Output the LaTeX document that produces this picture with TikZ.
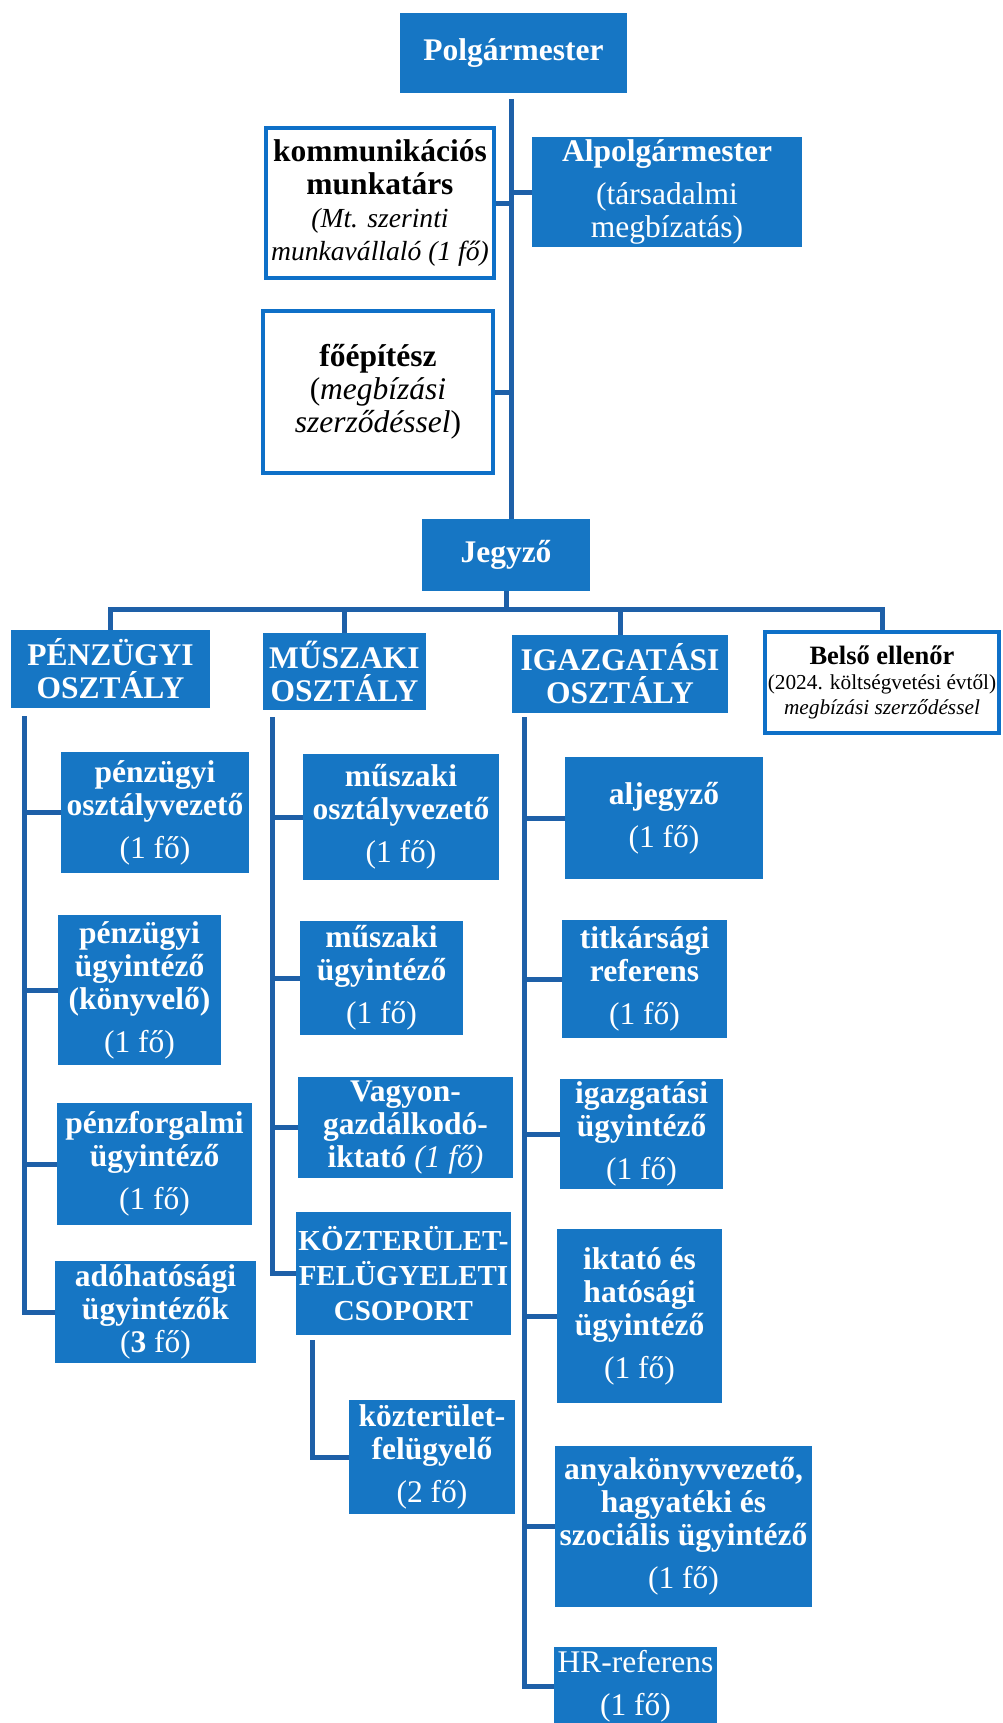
\documentclass[tikz,border=0pt]{standalone}
\usepackage{fontspec}
\setmainfont{Liberation Serif}
\newlength{\du}
\setlength{\du}{0.5pt}
\definecolor{dobozkek}{RGB}{22,118,196}
\definecolor{keretkek}{RGB}{14,112,200}
\definecolor{vonalkek}{RGB}{30,96,168}
\newcommand{\fo}[1]{\\[5pt]{\normalfont(#1~fő)}}
\tikzset{
  kek/.style={rectangle, fill=dobozkek, text=white, align=center, inner sep=0pt,
    font=\bfseries\fontsize{15.75}{16.5}\selectfont},
  feher/.style={rectangle, draw=keretkek, line width=2pt, fill=white, text=black,
    align=center, inner sep=0pt, font=\fontsize{15.75}{16.5}\selectfont},
  vonal/.style={draw=vonalkek, line width=2.5pt},
}

\begin{document}
\begin{tikzpicture}[x=\du,y=-\du]
\useasboundingbox (0,0) rectangle (1002,1723);
\clip (0,0) rectangle (1002,1723);
% vezetés
\node[kek, minimum width=227\du, minimum height=80\du] (polg) at (513.5,53) {Polgármester};
\node[feher, minimum width=228\du, minimum height=150\du] (komm) at (380,203)
  {\textbf{kommunikációs}\\\textbf{munkatárs}\\{\fontsize{13.8}{14.5}\selectfont\itshape(Mt. szerinti}\\{\fontsize{13.8}{14.5}\selectfont\itshape munkavállaló (1~fő)}};
\node[kek, minimum width=270\du, minimum height=110\du] (alpolg) at (667,192)
  {Alpolgármester\\[5pt]{\normalfont(társadalmi}\\{\normalfont megbízatás)}};
\node[feher, minimum width=230\du, minimum height=162\du] (foep) at (378,392)
  {\textbf{főépítész}\\(\textit{megbízási}\\\textit{szerződéssel})};
\node[kek, minimum width=168\du, minimum height=72\du] (jegyzo) at (506,555) {Jegyző};
% osztályok
\node[kek, minimum width=199\du, minimum height=78\du] (penz) at (110.5,669) {PÉNZÜGYI\\OSZTÁLY};
\node[kek, minimum width=163\du, minimum height=77\du] (musz) at (344.5,671.5) {MŰSZAKI\\OSZTÁLY};
\node[kek, minimum width=216\du, minimum height=78\du] (igaz) at (620,674) {IGAZGATÁSI\\OSZTÁLY};
\node[feher, minimum width=234\du, minimum height=101\du, font=\fontsize{10.65}{12.5}\selectfont] (belso) at (882,682.5)
  {{\fontsize{13.25}{14}\selectfont\bfseries Belső ellenőr}\\(2024. költségvetési évtől)\\\textit{megbízási szerződéssel}};
% pénzügyi osztály
\node[kek, minimum width=188\du, minimum height=121\du] (p1) at (155,812.5) {pénzügyi\\osztályvezető\fo{1}};
\node[kek, minimum width=163\du, minimum height=150\du] (p2) at (139.5,990) {pénzügyi\\ügyintéző\\(könyvelő)\fo{1}};
\node[kek, minimum width=195\du, minimum height=122\du] (p3) at (154.5,1164) {pénzforgalmi\\ügyintéző\fo{1}};
\node[kek, minimum width=201\du, minimum height=102\du] (p4) at (155.5,1312) {adóhatósági\\ügyintézők\\{\normalfont(\textbf{3}~fő)}};
% műszaki osztály
\node[kek, minimum width=196\du, minimum height=126\du] (m1) at (401,817) {műszaki\\osztályvezető\fo{1}};
\node[kek, minimum width=163\du, minimum height=114\du] (m2) at (381.5,978) {műszaki\\ügyintéző\fo{1}};
\node[kek, minimum width=215\du, minimum height=101\du] (m3) at (405.5,1127.5) {Vagyon-\\gazdálkodó-\\iktató {\normalfont\itshape(1~fő)}};
\node[kek, minimum width=215\du, minimum height=123\du, font=\bfseries\fontsize{14.5}{17.5}\selectfont] (m4) at (403.5,1273.5) {KÖZTERÜLET-\\FELÜGYELETI\\CSOPORT};
\node[kek, minimum width=166\du, minimum height=114\du] (m5) at (432,1457) {közterület-\\felügyelő\fo{2}};
% igazgatási osztály
\node[kek, minimum width=198\du, minimum height=122\du] (i1) at (664,818) {aljegyző\fo{1}};
\node[kek, minimum width=165\du, minimum height=118\du] (i2) at (644.5,979) {titkársági\\referens\fo{1}};
\node[kek, minimum width=163\du, minimum height=110\du] (i3) at (641.5,1134) {igazgatási\\ügyintéző\fo{1}};
\node[kek, minimum width=165\du, minimum height=174\du] (i4) at (639.5,1316) {iktató és\\hatósági\\ügyintéző\fo{1}};
\node[kek, minimum width=257\du, minimum height=161\du] (i5) at (683.5,1526.5) {anyakönyvvezető,\\hagyatéki és\\szociális ügyintéző\fo{1}};
\node[kek, minimum width=163\du, minimum height=78\du, font=\fontsize{15.75}{16.5}\selectfont] (i6) at (635.5,1686) {HR-referens\fo{1}};
% vonalak
\coordinate (tengely) at (511,99);
\coordinate (busz) at (0,609);
\draw[vonal] (tengely) -- (tengely |- jegyzo.north);
\draw[vonal] (komm.east) -- (komm.east -| tengely);
\draw[vonal] (alpolg.west) -- (alpolg.west -| tengely);
\draw[vonal] (foep.east) -- (foep.east -| tengely);
\draw[vonal] (jegyzo.south) -- (jegyzo.south |- busz);
\draw[vonal] (penz.north) |- (belso.north |- busz) -- (belso.north);
\draw[vonal] (musz.north) -- (musz.north |- busz);
\draw[vonal] (igaz.north) -- (igaz.north |- busz);
\coordinate (poszlop) at (24,716);
\draw[vonal] (poszlop) |- (p4.west);
\foreach \d in {p1,p2,p3} \draw[vonal] (\d.west) -- (\d.west -| poszlop);
\coordinate (mszlop) at (272,717);
\draw[vonal] (mszlop) |- (m4.west);
\foreach \d in {m1,m2,m3} \draw[vonal] (\d.west) -- (\d.west -| mszlop);
\coordinate (kszlop) at (312,1340);
\draw[vonal] (kszlop) |- (m5.west);
\coordinate (iszlop) at (524,717);
\draw[vonal] (iszlop) |- (i6.west);
\foreach \d in {i1,i2,i3,i4,i5} \draw[vonal] (\d.west) -- (\d.west -| iszlop);
\end{tikzpicture}
\end{document}
